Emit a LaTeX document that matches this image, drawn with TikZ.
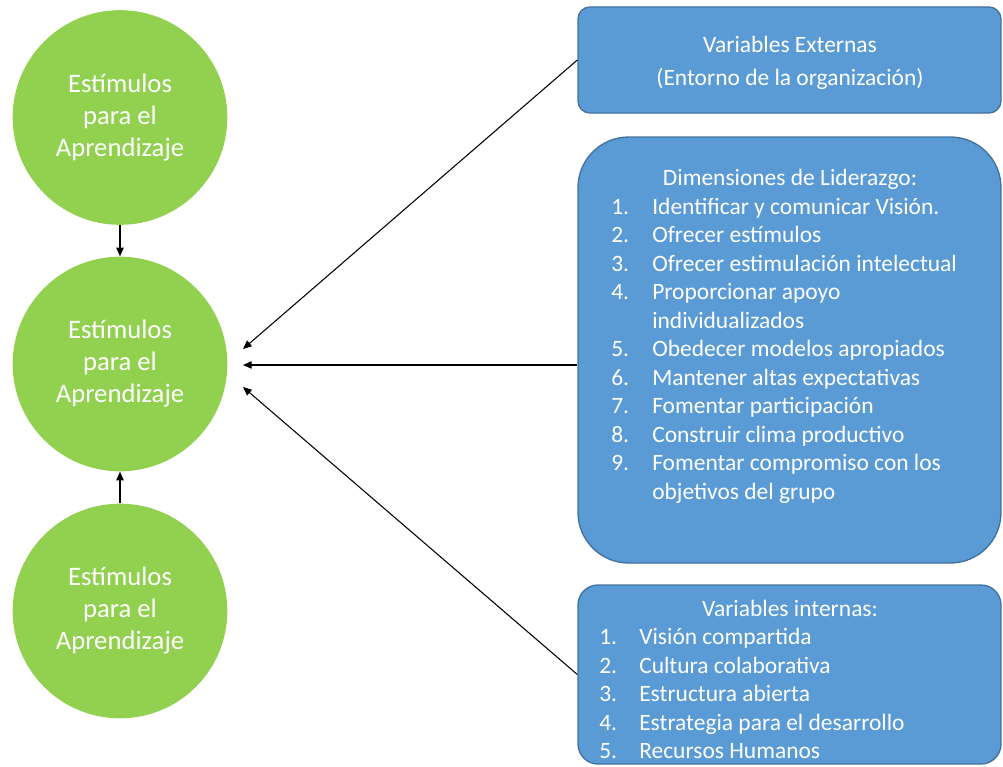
\documentclass[tikz,border=0pt]{standalone}
\usepackage{fontspec}
\setmainfont{Carlito}
\usetikzlibrary{arrows.meta,calc}
\definecolor{cgreen}{HTML}{92D050}
\definecolor{cblue}{HTML}{5B9BD5}
\definecolor{cborder}{HTML}{41719C}
\begin{document}
\begin{tikzpicture}[x=0.75pt,y=-0.75pt,
  stim/.style={circle, fill=cgreen, draw=none, minimum size=161pt, inner sep=0pt,
    text=white, align=center, font=\fontsize{20pt}{24pt}\selectfont},
  box/.style={draw=cborder, line width=1pt, fill=cblue, minimum width=317.25pt, inner sep=0pt},
  boxtxt/.style={text=white, inner sep=0pt, font=\fontsize{17.6pt}{21.4pt}\selectfont},
  conn/.style={draw=black, line width=0.8pt, -{Triangle[length=6.5pt,width=5.5pt]}}
]
\useasboundingbox (0,0) rectangle (1003,767);
% circles
\node[stim] (c1) at (120,117.5) {Estímulos\\para el\\Aprendizaje};
\node[stim] (c2) at (120,364) {Estímulos\\para el\\Aprendizaje};
\node[stim] (c3) at (120,611) {Estímulos\\para el\\Aprendizaje};
% boxes
\node[box, minimum height=79.5pt, rounded corners=9pt] (b1) at (789.5,60) {};
\node[box, minimum height=319.5pt, rounded corners=38pt] (b2) at (789.5,350) {};
\node[box, minimum height=134.25pt, rounded corners=15pt] (b3) at (789.5,674.5) {};
% box 1 text
\node[boxtxt, anchor=base] (t1a) at (790,53) {Variables Externas};
\node[boxtxt, anchor=base] (t1b) at (790,85) {(Entorno de la organización)};
% box 2 text
\node[boxtxt, anchor=base] (h2) at (790,185) {Dimensiones de Liderazgo:};
\foreach \n/\t/\yy in {1./Identificar y comunicar Visión./214,
  2./Ofrecer estímulos/242.5,
  3./Ofrecer estimulación intelectual/271,
  4./Proporcionar apoyo/299.5,
  /individualizados/328,
  5./Obedecer modelos apropiados/356.5,
  6./Mantener altas expectativas/385,
  7./Fomentar participación/413.5,
  8./Construir clima productivo/442,
  9./Fomentar compromiso con los/470.5,
  /objetivos del grupo/499}{
  \node[boxtxt, anchor=base west] (n2-\yy) at (611,\yy) {\n};
  \node[boxtxt, anchor=base west] (l2-\yy) at (652,\yy) {\t};
}
% box 3 text
\node[boxtxt, anchor=base] (h3) at (790,616) {Variables internas:};
\foreach \n/\t/\yy in {1./Visión compartida/644.5,
  2./Cultura colaborativa/673,
  3./Estructura abierta/701.5,
  4./Estrategia para el desarrollo/730,
  5./Recursos Humanos/758.5}{
  \node[boxtxt, anchor=base west] (n3-\yy) at (599,\yy) {\n};
  \node[boxtxt, anchor=base west] (l3-\yy) at (639,\yy) {\t};
}
% arrow end points
\coordinate (p1) at (243,349);
\coordinate (p2) at (243,365);
\coordinate (p3) at (243,387);
% connectors
\draw[conn] (c1.south) -- (c2.north);
\draw[conn] (c3.north) -- (c2.south);
\draw[conn] (b1.west) -- (p1);
\draw[conn] (b2.west |- p2) -- (p2);
\draw[conn] (b3.west) -- (p3);
\end{tikzpicture}
\end{document}
